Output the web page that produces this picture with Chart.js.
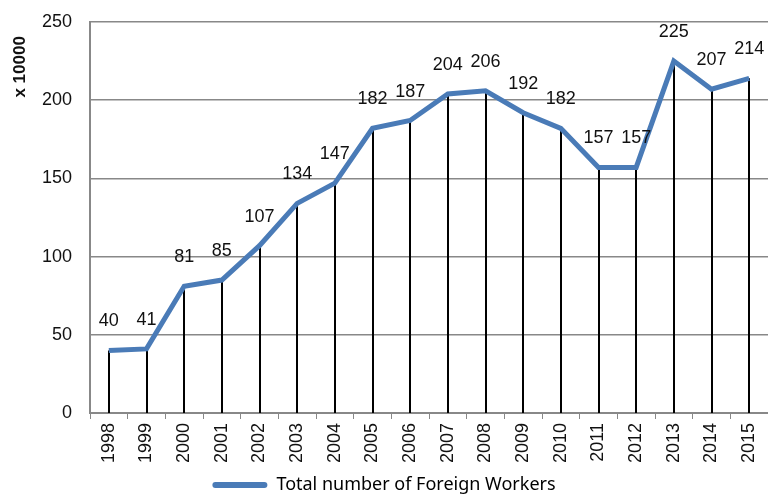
<!DOCTYPE html>
<html>
<head>
<meta charset="utf-8">
<script src="https://cdn.jsdelivr.net/npm/chart.js@4/dist/chart.umd.min.js"></script>
<style>
  html, body { margin: 0; padding: 0; background: #fff; }
  #wrap { width: 768px; height: 498px; }
</style>
</head>
<body>
<div id="wrap"><canvas id="chart" width="768" height="498"></canvas></div>
<script>
const years = ['1998', '1999', '2000', '2001', '2002', '2003', '2004', '2005', '2006',
  '2007', '2008', '2009', '2010', '2011', '2012', '2013', '2014', '2015'];
const workers = [40, 41, 81, 85, 107, 134, 147, 182, 187, 204, 206, 192, 182, 157, 157, 225, 207, 214];
const yTicks = [0, 50, 100, 150, 200, 250];

const lineBlue = '#4A7BB7';

// vertical black lines from each point down to the axis
const dropLines = {
  id: 'dropLines',
  beforeDatasetsDraw(chart) {
    const ctx = chart.ctx;
    const meta = chart.getDatasetMeta(0);
    const bottom = chart.scales.y.getPixelForValue(0);
    ctx.save();
    ctx.strokeStyle = '#000';
    ctx.lineWidth = 2;
    meta.data.forEach(p => {
      ctx.beginPath();
      ctx.moveTo(Math.round(p.x), p.y);
      ctx.lineTo(Math.round(p.x), bottom);
      ctx.stroke();
    });
    ctx.restore();
  }
};

// value labels above the points
const valueLabels = {
  id: 'valueLabels',
  afterDatasetsDraw(chart) {
    const ctx = chart.ctx;
    const meta = chart.getDatasetMeta(0);
    ctx.save();
    ctx.font = '18px "Liberation Sans", Arial, sans-serif';
    ctx.fillStyle = '#111';
    ctx.textAlign = 'center';
    ctx.textBaseline = 'bottom';
    meta.data.forEach((p, i) => {
      ctx.fillText(String(workers[i]), p.x, p.y - 20);
    });
    ctx.restore();
  }
};

new Chart(document.getElementById('chart').getContext('2d'), {
  type: 'line',
  data: {
    labels: years,
    datasets: [{
      label: 'Total number of Foreign Workers',
      data: workers,
      borderColor: lineBlue,
      backgroundColor: lineBlue,
      borderWidth: 5,
      pointRadius: 0,
      tension: 0,
      fill: false
    }]
  },
  options: {
    responsive: false,
    animation: false,
    layout: { padding: { top: 22, right: 0, left: 0, bottom: -6 } },
    plugins: {
      legend: {
        position: 'bottom',
        labels: {
          font: { family: '"Noto Sans", sans-serif', size: 18 },
          color: '#111',
          boxWidth: 55,
          boxHeight: 6,
          padding: 0,
          generateLabels: chart => [{
            text: chart.data.datasets[0].label,
            fillStyle: lineBlue,
            strokeStyle: lineBlue,
            lineWidth: 0,
            borderRadius: 3,
            datasetIndex: 0
          }]
        }
      },
      tooltip: { enabled: false }
    },
    scales: {
      x: {
        offset: true,
        grid: {
          offset: true,
          drawOnChartArea: false,
          drawTicks: true,
          tickLength: 6,
          color: '#888'
        },
        border: { color: '#888', width: 2 },
        ticks: {
          minRotation: 90,
          maxRotation: 90,
          autoSkip: false,
          padding: 4,
          color: '#111',
          font: { family: '"Liberation Sans", Arial, sans-serif', size: 18 }
        },
        afterFit: s => { s.height = 63; s.paddingRight = 0; s.paddingLeft = 0; }
      },
      y: {
        min: 0,
        max: 250,
        afterBuildTicks: s => { s.ticks = yTicks.map(v => ({ value: v })); },
        grid: { color: '#888', lineWidth: 1.5, drawTicks: false },
        border: { color: '#888', width: 2 },
        ticks: {
          padding: 18,
          color: '#111',
          font: { family: '"Liberation Sans", Arial, sans-serif', size: 18 }
        },
        title: {
          display: true,
          text: 'x 10000   ',
          align: 'end',
          color: '#111',
          padding: { top: 10, bottom: 2 },
          font: { family: '"Liberation Sans", Arial, sans-serif', size: 17, weight: 'bold' }
        },
        afterFit: s => { s.width = 90; s.paddingTop = 0; s.paddingBottom = 0; }
      }
    }
  },
  plugins: [dropLines, valueLabels]
});
</script>
</body>
</html>
